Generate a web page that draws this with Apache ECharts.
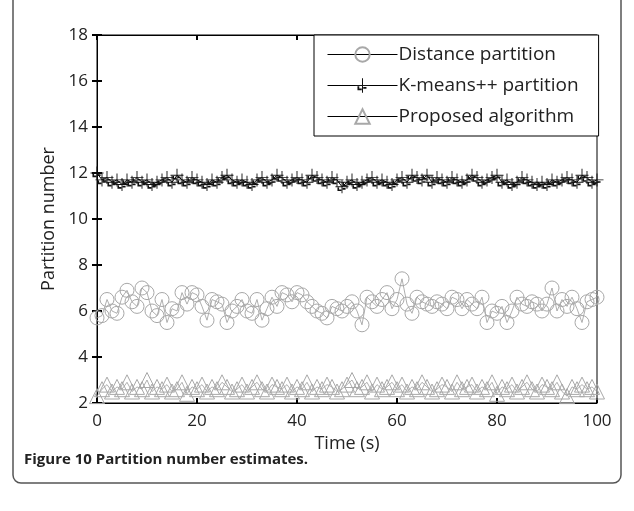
<!DOCTYPE html>
<html><head><meta charset="utf-8">
<script src="https://cdn.jsdelivr.net/npm/echarts@6/dist/echarts.min.js"></script>
<style>html,body{margin:0;padding:0;background:#fff}#c{width:634px;height:511px}</style>
</head><body><div id="c"></div>
<script>
const seriesNames = ['Distance partition', 'K-means++ partition', 'Proposed algorithm'];
const xTicks = [0, 20, 40, 60, 80, 100];
const yTicks = [2, 4, 6, 8, 10, 12, 14, 16, 18];
const times = Array.from({length: 101}, (_, i) => i);
const distanceValues = [5.7,5.8,6.5,6.0,5.9,6.6,6.9,6.4,6.2,7.0,6.8,6.0,5.8,6.5,5.5,6.1,6.0,6.8,6.3,6.8,
  6.7,6.2,5.6,6.5,6.4,6.3,5.5,6.0,6.2,6.5,6.0,5.9,6.5,5.6,6.1,6.6,6.2,6.8,6.7,6.4,
  6.8,6.7,6.4,6.2,6.0,5.9,5.7,6.2,6.1,6.0,6.2,6.4,6.0,5.4,6.6,6.4,6.2,6.5,6.8,6.1,
  6.5,7.4,6.3,5.9,6.6,6.4,6.3,6.2,6.4,6.3,6.1,6.6,6.5,6.1,6.5,6.3,6.1,6.6,5.5,6.0,
  5.9,6.2,5.5,6.0,6.6,6.3,6.2,6.4,6.3,6.0,6.3,7.0,6.0,6.5,6.2,6.6,6.1,5.5,6.4,6.5,6.6];
const kmeansValues = [12.0,11.7,11.8,11.6,11.7,11.5,11.7,11.6,11.8,11.6,11.7,11.5,11.6,11.7,11.8,11.6,11.9,11.7,11.6,11.8,
  11.7,11.6,11.5,11.7,11.6,11.8,11.9,11.7,11.6,11.7,11.6,11.5,11.7,11.8,11.6,11.7,11.9,11.8,11.6,11.7,
  11.8,11.7,11.6,11.9,11.8,11.7,11.6,11.8,11.7,11.4,11.6,11.7,11.5,11.6,11.7,11.8,11.6,11.7,11.6,11.5,
  11.7,11.8,11.6,11.9,11.8,11.7,11.9,11.6,11.8,11.7,11.6,11.8,11.7,11.6,11.7,11.9,11.8,11.6,11.7,11.8,
  11.9,11.6,11.7,11.5,11.6,11.8,11.7,11.6,11.5,11.6,11.5,11.7,11.6,11.7,11.8,11.7,11.6,11.9,11.8,11.6,11.7];
const proposedValues = [2.3,2.6,2.8,2.5,2.7,2.6,2.9,2.5,2.7,2.6,3.0,2.5,2.7,2.6,2.8,2.5,2.6,2.9,2.4,2.7,
  2.6,2.8,2.5,2.7,2.6,2.9,2.7,2.5,2.6,2.8,2.5,2.7,2.9,2.6,2.5,2.8,2.7,2.6,2.8,2.5,
  2.7,2.6,2.9,2.5,2.7,2.6,2.8,2.7,2.5,2.6,2.8,3.0,2.6,2.7,2.9,2.5,2.8,2.6,2.7,2.9,
  2.6,2.8,2.5,2.7,2.6,2.9,2.7,2.5,2.6,2.8,2.7,2.5,2.9,2.6,2.7,2.8,2.5,2.7,2.6,2.9,
  2.4,2.7,2.6,2.8,2.5,2.7,2.9,2.6,2.5,2.8,2.7,2.6,2.9,2.5,2.3,2.7,2.6,2.8,2.6,2.7,2.5];

const pairs = v => times.map((t, i) => [t, v[i]]);
const FONT = '"Open Sans", "Noto Sans", sans-serif';
const plusPath = 'path://M9.3,0 L10.7,0 L10.7,9.3 L20,9.3 L20,10.7 L10.7,10.7 L10.7,20 L9.3,20 L9.3,10.7 L0,10.7 L0,9.3 L9.3,9.3 Z M3,11 L5.5,11 L5.5,14 L9,14 L9,16.5 L3,16.5 Z M11,12 L15.5,12 L15.5,14.5 L11,14.5 Z';

const chart = echarts.init(document.getElementById('c'), null, {renderer: 'canvas'});
const tickCommon = {show: true, inside: true, length: 5, lineStyle: {color: '#000', width: 2}};
chart.setOption({
  animation: false,
  backgroundColor: '#fff',
  textStyle: {fontFamily: FONT},
  grid: {left: 97, right: 37, top: 35, bottom: 108, show: true, borderColor: '#000', borderWidth: 1, backgroundColor: 'transparent'},
  graphic: [
    {type: 'rect', shape: {x: 13, y: -10, width: 608, height: 493, r: 8}, style: {fill: 'none', stroke: '#555', lineWidth: 1.5}, z: -1},
    {type: 'text', left: 24, top: 452, style: {text: 'Figure 10 Partition number estimates.', font: 'bold 15px ' + FONT, fill: '#222'}}
  ],
  legend: {
    orient: 'vertical', left: 314, top: 35,
    backgroundColor: '#fff', borderColor: '#000', borderWidth: 1,
    padding: [10, 20, 10, 13], itemGap: 12, itemWidth: 70, itemHeight: 18,
    textStyle: {fontSize: 19, color: '#222', fontFamily: FONT, padding: [0, 0, 0, -4]},
    lineStyle: {color: '#000', width: 1},
    data: seriesNames
  },
  xAxis: [{
    type: 'value', min: 0, max: 100, interval: 20,
    name: 'Time (s)', nameLocation: 'middle', nameGap: 27,
    nameTextStyle: {fontSize: 18, color: '#222', fontFamily: FONT},
    axisLine: {show: true, lineStyle: {color: '#000', width: 1}},
    axisTick: tickCommon,
    axisLabel: {fontSize: 17, color: '#222', margin: 10, fontFamily: FONT, customValues: xTicks},
    splitLine: {show: false}
  }, {
    type: 'value', min: 0, max: 100, interval: 20, position: 'top',
    axisLine: {show: true, lineStyle: {color: '#000', width: 1}},
    axisTick: tickCommon, axisLabel: {show: false}, splitLine: {show: false}
  }],
  yAxis: [{
    type: 'value', min: 2, max: 18, interval: 2,
    name: 'Partition number', nameLocation: 'middle', nameGap: 38, nameRotate: 90,
    nameTextStyle: {fontSize: 18, color: '#222', fontFamily: FONT},
    axisLine: {show: true, lineStyle: {color: '#000', width: 1}},
    axisTick: tickCommon,
    axisLabel: {fontSize: 17, color: '#222', margin: 9, fontFamily: FONT, customValues: yTicks},
    splitLine: {show: false}
  }, {
    type: 'value', min: 2, max: 18, interval: 2, position: 'right',
    axisLine: {show: true, lineStyle: {color: '#000', width: 1}},
    axisTick: tickCommon, axisLabel: {show: false}, splitLine: {show: false}
  }],
  series: [{
    name: seriesNames[0], type: 'line', data: pairs(distanceValues),
    symbol: 'circle', symbolSize: 14,
    itemStyle: {color: 'rgba(0,0,0,0)', borderColor: '#a8a8a8', borderWidth: 1},
    lineStyle: {color: '#9a9a9a', width: 0.8}, z: 2
  }, {
    name: seriesNames[1], type: 'line', data: pairs(kmeansValues),
    symbol: plusPath, symbolSize: 13,
    itemStyle: {color: '#111'},
    lineStyle: {color: '#000', width: 1}, z: 3
  }, {
    name: seriesNames[2], type: 'line', data: pairs(proposedValues),
    symbol: 'triangle', symbolSize: 15,
    itemStyle: {color: 'rgba(0,0,0,0)', borderColor: '#a8a8a8', borderWidth: 1},
    lineStyle: {color: '#9a9a9a', width: 0.8}, z: 2
  }]
});
</script></body></html>
